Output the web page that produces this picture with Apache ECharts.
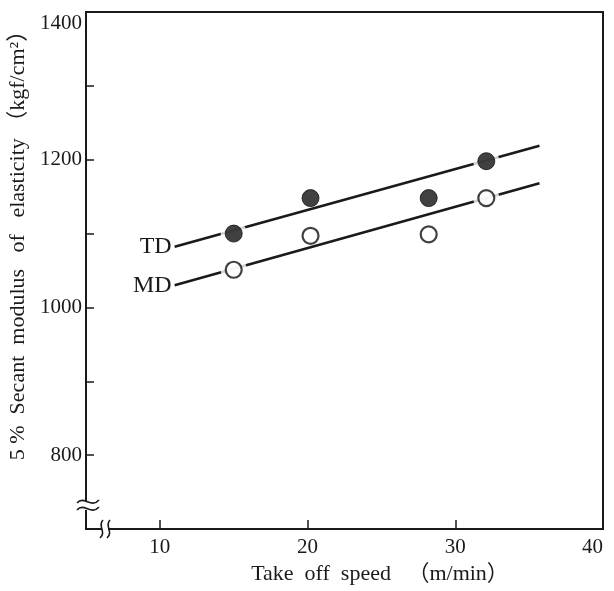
<!DOCTYPE html>
<html>
<head>
<meta charset="utf-8">
<script src="https://cdn.jsdelivr.net/npm/echarts@6/dist/echarts.min.js"></script>
<style>html,body{margin:0;padding:0;background:#fff}#c{width:614px;height:591px}</style>
</head>
<body>
<div id="c"></div>
<script>
// ---- data ----
var tdPoints = [[15, 1100], [20.2, 1148], [28.2, 1148], [32.1, 1198]];
var mdPoints = [[15, 1051], [20.2, 1097], [28.2, 1099], [32.1, 1148]];
var tdLine = [[11.0, 1082], [35.7, 1219]];
var mdLine = [[11.0, 1030], [35.7, 1168]];
var xTickValues = [10, 20, 30];
var xLabelValues = [10, 20, 30, 40];
var yTickValues = [800, 900, 1000, 1100, 1200, 1300];
var yLabelValues = [800, 1000, 1200, 1400];
var xTitle = 'Take  off  speed   （m/min）';
var yTitle = '5 %  Secant  modulus   of   elasticity （kgf/cm²）';

var FONT = '"Liberation Serif", serif';
var INK = '#1a1a1a';

function lineY(line, x) {
  var a = line[0], b = line[1];
  return a[1] + (b[1] - a[1]) * (x - a[0]) / (b[0] - a[0]);
}
function haloData(points, line) {
  return points.filter(function (p) { return Math.abs(p[1] - lineY(line, p[0])) < 10; });
}
function fitSeries(line, name) {
  return {
    type: 'line', z: 2, silent: true,
    data: line.map(function (p, i) {
      return i === 0 ? { value: p, label: { show: true, formatter: name } } : { value: p };
    }),
    symbol: 'circle', symbolSize: 0.01, showSymbol: true,
    itemStyle: { color: 'rgba(0,0,0,0)' },
    lineStyle: { color: INK, width: 2.6 },
    label: { show: false, position: 'left', distance: 3, color: INK, fontFamily: FONT, fontSize: 24 },
    animation: false
  };
}
var labelStyle = { color: INK, fontFamily: FONT, fontSize: 21, fontWeight: 'normal' };

var chart = echarts.init(document.getElementById('c'), null, { renderer: 'canvas' });
chart.setOption({
  animation: false,
  backgroundColor: '#fff',
  textStyle: { fontFamily: FONT, color: INK },
  grid: { left: 86, right: 11, top: 12, bottom: 62, show: true, borderColor: INK, borderWidth: 2, backgroundColor: 'transparent' },
  xAxis: {
    type: 'value', min: 5, max: 40,
    axisLine: { show: true, lineStyle: { color: INK, width: 2 } },
    axisTick: { show: true, inside: true, length: 9, customValues: xTickValues, lineStyle: { color: INK, width: 1.5 } },
    axisLabel: {
      customValues: xLabelValues, margin: 8, color: INK, fontFamily: FONT, fontSize: 21, alignMaxLabel: 'right',
      formatter: function (v) { return '{n|' + v + '}'; },
      rich: { n: labelStyle }
    },
    splitLine: { show: false }
  },
  yAxis: {
    type: 'value', min: 700, max: 1400,
    axisLine: { show: true, lineStyle: { color: INK, width: 2 } },
    axisTick: { show: true, inside: true, length: 8, customValues: yTickValues, lineStyle: { color: INK, width: 1.5 } },
    axisLabel: {
      customValues: yLabelValues, margin: 4, color: INK, fontFamily: FONT, fontSize: 21,
      formatter: function (v) { return v === 1400 ? '{t|' + v + '}' : '{n|' + v + '}'; },
      rich: {
        t: { padding: [22, 0, 0, 0], color: INK, fontFamily: FONT, fontSize: 21 },
        n: labelStyle
      }
    },
    splitLine: { show: false }
  },
  series: [
    fitSeries(tdLine, 'TD'),
    fitSeries(mdLine, 'MD'),
    { type: 'scatter', z: 3, silent: true, data: haloData(tdPoints, tdLine).concat(haloData(mdPoints, mdLine)),
      symbolSize: 26, itemStyle: { color: '#fff' } },
    { type: 'scatter', z: 4, silent: true, data: tdPoints, symbolSize: 17,
      itemStyle: { color: '#111', borderColor: '#111', borderWidth: 1 } },
    { type: 'scatter', z: 4, silent: true, data: mdPoints, symbolSize: 16,
      itemStyle: { color: '#fff', borderColor: '#111', borderWidth: 2.2 } }
  ],
  graphic: [
    { type: 'text', z: 50, x: 18, y: 240, rotation: Math.PI / 2,
      style: { text: yTitle, fill: INK, font: '22px "Liberation Serif", "Noto Sans CJK JP", serif', textAlign: 'center', textVerticalAlign: 'middle' } },
    { type: 'text', z: 50, x: 380, y: 574,
      style: { text: xTitle, fill: INK, font: '22px "Liberation Serif", "Noto Sans CJK JP", serif', textAlign: 'center', textVerticalAlign: 'middle' } },
    // y-axis break
    { type: 'rect', z: 100, shape: { x: 81, y: 501, width: 10, height: 9 }, style: { fill: '#fff' } },
    { type: 'bezierCurve', z: 101, shape: { x1: 77, y1: 503, cpx1: 84, cpy1: 495, cpx2: 91, cpy2: 509, x2: 99, y2: 500 },
      style: { stroke: INK, lineWidth: 1.6, fill: null } },
    { type: 'bezierCurve', z: 101, shape: { x1: 77, y1: 510, cpx1: 84, cpy1: 502, cpx2: 91, cpy2: 516, x2: 99, y2: 507 },
      style: { stroke: INK, lineWidth: 1.6, fill: null } },
    // x-axis break
    { type: 'rect', z: 100, shape: { x: 102, y: 526, width: 6, height: 6 }, style: { fill: '#fff' } },
    { type: 'bezierCurve', z: 101, shape: { x1: 103, y1: 520, cpx1: 97, cpy1: 526, cpx2: 107, cpy2: 532, x2: 100, y2: 538 },
      style: { stroke: INK, lineWidth: 1.6, fill: null } },
    { type: 'bezierCurve', z: 101, shape: { x1: 110, y1: 520, cpx1: 104, cpy1: 526, cpx2: 114, cpy2: 532, x2: 107, y2: 538 },
      style: { stroke: INK, lineWidth: 1.6, fill: null } }
  ]
});
</script>
</body>
</html>
